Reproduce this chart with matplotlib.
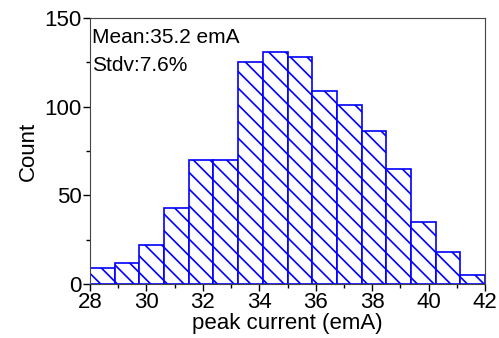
import matplotlib.pyplot as plt
import numpy as np
from matplotlib.ticker import MultipleLocator

plt.rcParams['font.family'] = ['Liberation Sans', 'DejaVu Sans']
plt.rcParams['hatch.color'] = 'blue'
plt.rcParams['hatch.linewidth'] = 1.2

# histogram bins (emA) and counts
bin_start = 28.0
bin_width = 0.875
counts = [9, 12, 22, 43, 70, 70, 125, 131, 128, 109, 101, 86, 65, 35, 18, 5]
edges = bin_start + bin_width * np.arange(len(counts))

fig = plt.figure(figsize=(4.99, 3.38), dpi=100)
ax = fig.add_axes([0.1804, 0.16, 0.7916, 0.787])

ax.bar(edges, counts, width=bin_width, align='edge', facecolor='white',
       edgecolor='blue', linewidth=1.2, hatch='\\\\')

ax.set_xlim(28, 42)
ax.set_ylim(0, 150)
ax.xaxis.set_major_locator(MultipleLocator(2))
ax.xaxis.set_minor_locator(MultipleLocator(1))
ax.yaxis.set_major_locator(MultipleLocator(50))
ax.yaxis.set_minor_locator(MultipleLocator(25))
ax.tick_params(which='both', direction='out', labelsize=16, width=1, pad=1)
ax.tick_params(which='major', length=5)
ax.tick_params(which='minor', length=3)
for s in ax.spines.values():
    s.set_color('#444444')

ax.set_xlabel('peak current (emA)', fontsize=16, labelpad=0)
ax.set_ylabel('Count', fontsize=16)

ax.text(0.006, 0.906, 'Mean:35.2 emA', transform=ax.transAxes, fontsize=15,
        va='baseline', ha='left')
ax.text(0.006, 0.801, 'Stdv:7.6%', transform=ax.transAxes, fontsize=15,
        va='baseline', ha='left')

fig.savefig('out.png', dpi=100)
